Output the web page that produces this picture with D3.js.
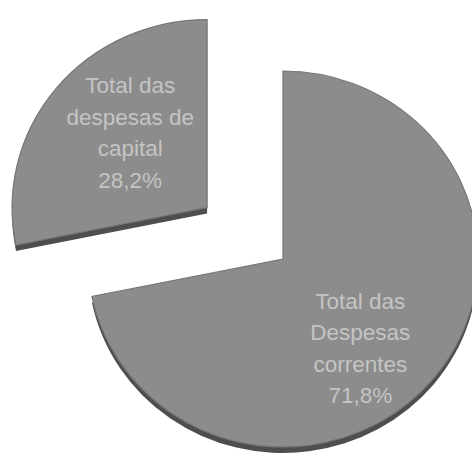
<!DOCTYPE html>
<html>
<head>
<meta charset="utf-8">
<script src="https://cdn.jsdelivr.net/npm/d3@7"></script>
<style>
  html, body { margin: 0; padding: 0; background: #ffffff; }
  svg { display: block; }
</style>
</head>
<body>
<svg id="chart" width="472" height="456"></svg>
<script>
// ---- data ----
const categories = ["Total das Despesas correntes", "Total das despesas de capital"];
const values = [71.8, 28.2];
const labelLines = [["Total das", "Despesas", "correntes"], ["Total das", "despesas de", "capital"]];
const exploded = [false, true];

// ---- layout ----
const W = 472, H = 456;
const cx = 283, cy = 259;
const R = 195;            // horizontal radius
const tilt = 188 / 195;   // vertical squash of the pie plane
const depth = 6;          // 3D rim thickness
const explodeDist = 98;
const explodeTilt = 0.83;
const faceColor = "#8c8c8c";
const rimColor = "#4e4e4e";
const textColor = "#c4c4c4";

const svg = d3.select("#chart");
svg.append("rect").attr("width", W).attr("height", H).attr("fill", "#fff");

const pie = d3.pie().sort(null).value(d => d);
const arcs = pie(values);
const arc = d3.arc().innerRadius(0).outerRadius(R);

const fmt = v => d3.format(".1f")(v).replace(".", ",") + "%";

arcs.forEach((a, i) => {
  const mid = (a.startAngle + a.endAngle) / 2;
  let ox = 0, oy = 0;
  if (exploded[i]) {
    ox = Math.sin(mid) * explodeDist;
    oy = -Math.cos(mid) * explodeDist * explodeTilt;
  }
  const g = svg.append("g").attr("transform", `translate(${cx + ox},${cy + oy})`);
  // rim (side wall)
  g.append("path")
    .attr("d", arc(a))
    .attr("transform", `translate(0,${depth}) scale(1,${tilt})`)
    .attr("fill", rimColor);
  // top face
  g.append("path")
    .attr("d", arc(a))
    .attr("transform", `scale(1,${tilt})`)
    .attr("fill", faceColor)
    .attr("stroke", "#767676")
    .attr("stroke-width", 1.2);

  // label
  const la = mid + (exploded[i] ? 6 : 11) * Math.PI / 180;
  const lr = exploded[i] ? 0.56 : 0.62;
  const lx = Math.sin(la) * R * lr;
  const ly = -Math.cos(la) * R * tilt * lr;
  const lines = labelLines[i].concat([fmt(values[i])]);
  const lh = 31.5;
  const t = g.append("text")
    .attr("text-anchor", "middle")
    .attr("font-family", "'Liberation Sans', Arial, sans-serif")
    .attr("font-size", 22.5)
    .attr("fill", textColor);
  lines.forEach((ln, k) => {
    t.append("tspan")
      .attr("x", lx)
      .attr("y", ly + (k - (lines.length - 1) / 2) * lh)
      .attr("dominant-baseline", "central")
      .text(ln);
  });
});
</script>
</body>
</html>
